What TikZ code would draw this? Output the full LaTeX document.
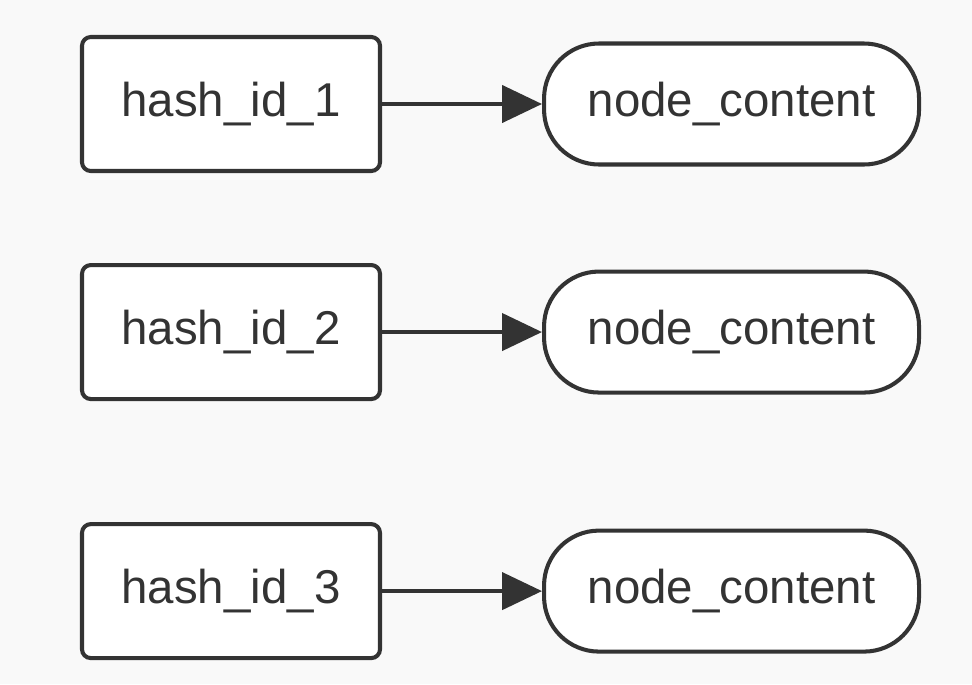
\documentclass[tikz,border=0pt]{standalone}
\usepackage{fontspec}
\setmainfont{Liberation Sans}
\usepackage{xcolor}
\usepackage{tikz}
\usetikzlibrary{arrows.meta, positioning}
\definecolor{Ink}{HTML}{333333}
\definecolor{Paper}{HTML}{F9F9F9}

\begin{document}
\begin{tikzpicture}[
  hashbox/.style={draw=Ink, fill=white, line width=2.3pt, rounded corners=5pt, minimum width=5.96cm, minimum height=2.68cm, align=center, text=Ink, font=\fontsize{27}{32}\selectfont},
  content/.style={draw=Ink, fill=white, line width=2.3pt, rounded corners=1.1cm, minimum width=7.5cm, minimum height=2.42cm, align=center, text=Ink, font=\fontsize{27}{32}\selectfont},
  arrow/.style={-{Triangle[length=0.8cm, width=0.74cm]}, line width=2.5pt, color=Ink}
]
\fill[Paper] (0,0) rectangle (19.44,-13.68);
\useasboundingbox (0,0) rectangle (19.44,-13.68);

\node[hashbox] (hash1) at (4.62,-2.08) {hash\_id\_1};
\node[content, right=3.2cm of hash1] (cont1) {node\_content};
\node[hashbox, below=1.8cm of hash1] (hash2) {hash\_id\_2};
\node[content, right=3.2cm of hash2] (cont2) {node\_content};
\node[hashbox, below=2.42cm of hash2] (hash3) {hash\_id\_3};
\node[content, right=3.2cm of hash3] (cont3) {node\_content};

\draw[arrow] (hash1) -- (cont1);
\draw[arrow] (hash2) -- (cont2);
\draw[arrow] (hash3) -- (cont3);
\end{tikzpicture}
\end{document}
